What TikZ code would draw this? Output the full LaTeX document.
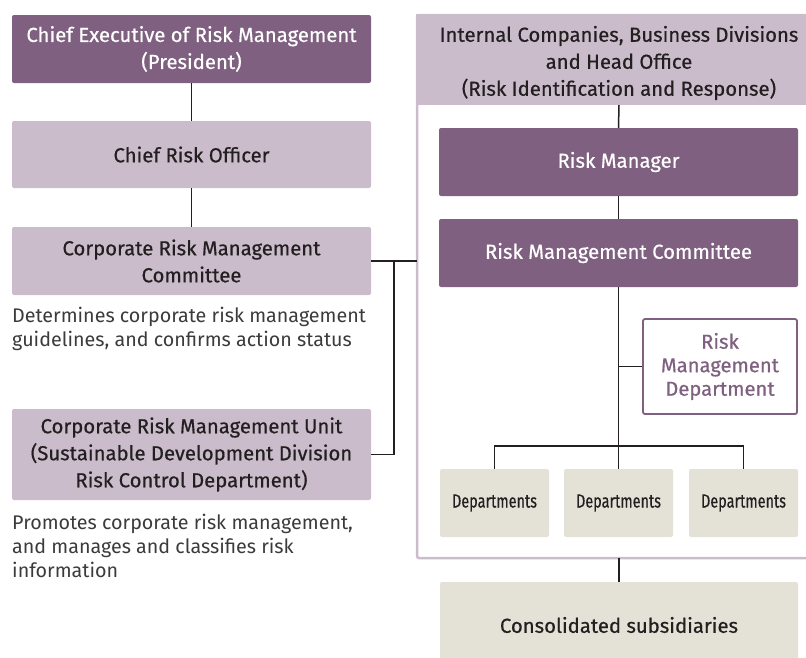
\documentclass[tikz,border=0pt]{standalone}
\usepackage{fontspec}
\setmainfont{Fira Sans}
\newfontfamily\boxfont[FakeBold=0.5]{Fira Sans}
\newfontfamily\condfont[FakeStretch=0.76,FakeBold=0.5]{Fira Sans}
\definecolor{plumdark}{HTML}{7F6080}
\definecolor{plumlight}{HTML}{CBBCCC}
\definecolor{sand}{HTML}{E4E1D6}
\definecolor{ink}{HTML}{231F20}
\definecolor{note}{HTML}{3C3A3B}
\tikzset{
  box/.style={rounded corners=2pt, inner sep=0pt, align=center, text=ink,
    font=\boxfont\fontsize{20.3}{27}\selectfont},
  darkbox/.style={box, fill=plumdark, text=white},
  lightbox/.style={box, fill=plumlight},
  sandbox/.style={box, fill=sand},
  deptbox/.style={sandbox, minimum width=109, minimum height=68,
    font=\condfont\fontsize{19}{22}\selectfont},
  outlinebox/.style={box, draw=plumdark, line width=1.8pt, fill=white,
    text=plumdark, font=\boxfont\fontsize{20.2}{23.5}\selectfont},
  notetext/.style={anchor=west, inner sep=0pt, align=left, text=note,
    font=\fontsize{19.7}{24}\selectfont},
  link/.style={draw=ink, line width=1.5pt},
}
\begin{document}
\begin{tikzpicture}[x=1pt, y=-1pt]
  \useasboundingbox (0,0) rectangle (806,657);
  \clip (0,0) rectangle (806,657);

  % left column: corporate level
  \node[darkbox, minimum width=359, minimum height=68] (ceo) at (191.5,49)
    {Chief Executive of Risk Management\\(President)};
  \node[lightbox, minimum width=359, minimum height=67] (cro) at (191.5,154.5)
    {Chief Risk Officer};
  \node[lightbox, minimum width=359, minimum height=68] (crmc) at (191.5,261)
    {Corporate Risk Management\\Committee};
  \node[notetext] (note1) at (12,329)
    {Determines corporate risk management\\guidelines, and confirms action status};
  \node[lightbox, minimum width=359, minimum height=91] (crmu) at (191.5,454.5)
    {Corporate Risk Management Unit\\(Sustainable Development Division\\Risk Control Department)};
  \node[notetext] (note2) at (12,546)
    {Promotes corporate risk management,\\and manages and classifies risk\\information};

  % right column: internal companies frame
  \draw[plumlight, line width=2.5pt, rounded corners=2pt] (417,15) rectangle (830,558);
  \node[lightbox, anchor=north west, minimum width=410, minimum height=91,
    rounded corners=0pt] (head) at (416,14) {};
  \node[box] (headtext) at (619,63)
    {Internal Companies, Business Divisions\\and Head Office\\(Risk Identification and Response)};
  \coordinate (headfoot) at (619,105);
  \coordinate (frameleft) at (417,261);
  \coordinate (framefoot) at (619,558);

  \node[darkbox, minimum width=359, minimum height=68] (rm) at (618.5,162) {Risk Manager};
  \node[darkbox, minimum width=359, minimum height=68] (rmc) at (618.5,253)
    {Risk Management Committee};
  \node[outlinebox, minimum width=154, minimum height=95] (rmd) at (720,366.5)
    {Risk\\Management\\Department};
  \node[deptbox] (d1) at (494.5,503) {Departments};
  \node[deptbox] (d2) at (618.5,503) {Departments};
  \node[deptbox] (d3) at (743.5,503) {Departments};
  \node[sandbox, minimum width=358, minimum height=86] (cons) at (619,625)
    {Consolidated subsidiaries};

  % connectors
  \draw[link] (ceo.south) -- (cro.north);
  \draw[link] (cro.south) -- (crmc.north);
  \draw[link] (crmc.east) -- (frameleft);
  \draw[link] (crmu.east) -- (394,454.5) -- (394,261);
  \draw[link] (headfoot) -- (rm.north);
  \draw[link] (rm.south) -- (rmc.north);
  \draw[link] (rmc.south) -- (d2.north);
  \draw[link] (rmd.west) -- (619,366.5);
  \draw[link] (d1.north) -- (494.5,446) -| (d3.north);
  \draw[link] (framefoot) -- (cons.north);
\end{tikzpicture}
\end{document}
